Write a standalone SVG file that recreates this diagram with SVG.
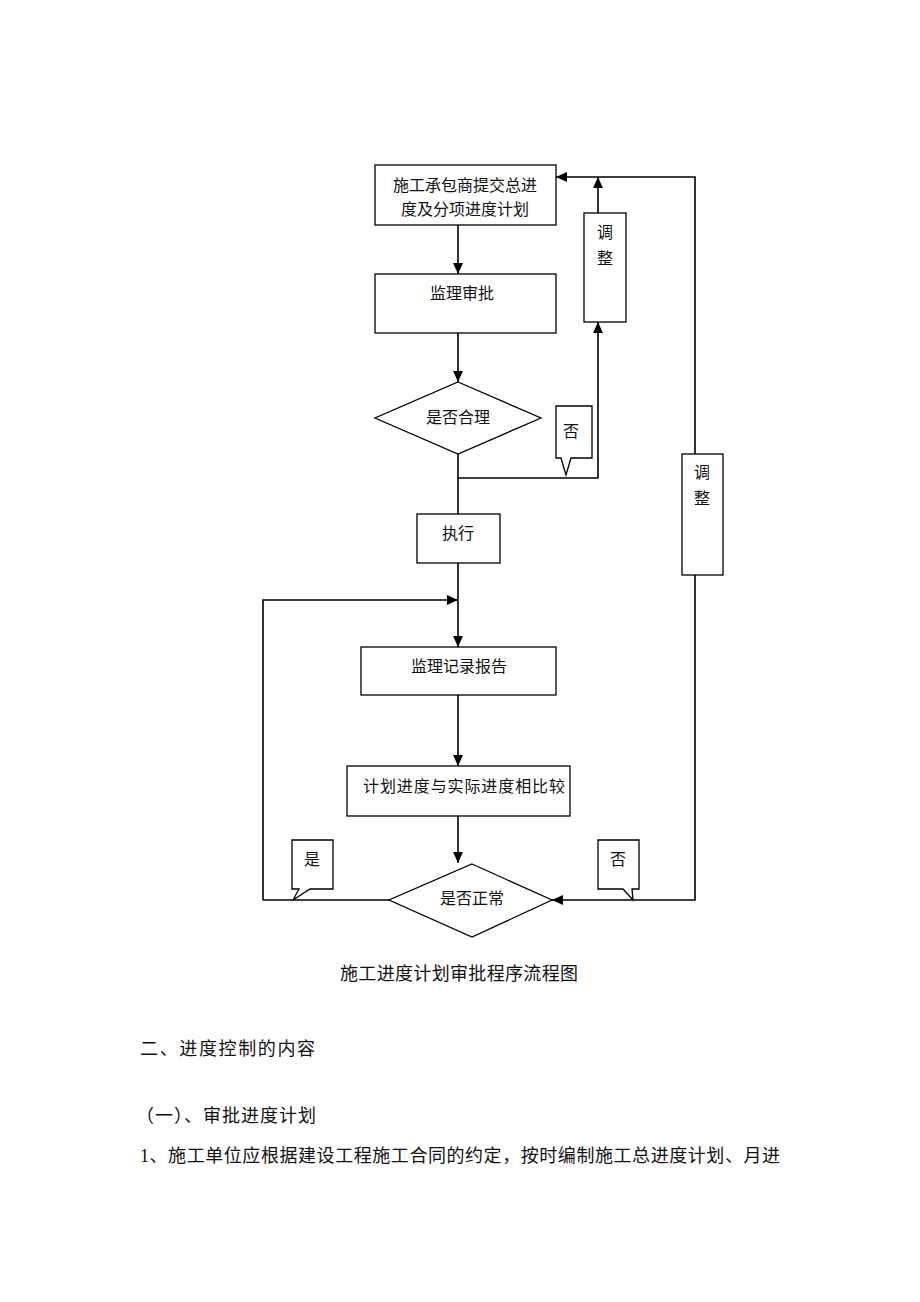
<svg xmlns="http://www.w3.org/2000/svg" width="920" height="1302" viewBox="0 0 920 1302">
<style>
.box{fill:#fff;stroke:#000;stroke-width:1.3}
.ln{fill:none;stroke:#000;stroke-width:1.6}
.t{font-family:"Liberation Serif","Noto Sans CJK SC",serif;font-size:16px;fill:#111;text-anchor:middle}
.b{font-family:"Liberation Serif","Noto Sans CJK SC",serif;font-size:18px;fill:#111}
</style>
<defs>
<marker id="ar" markerUnits="userSpaceOnUse" markerWidth="11" markerHeight="11" viewBox="0 0 10 10" refX="10" refY="5" orient="auto">
<path d="M0,0.5 L10,5 L0,9.5 Z" fill="#000"/>
</marker>
</defs>
<rect width="920" height="1302" fill="#fff"/>

<g id="connectors">
<line class="ln" x1="458" y1="225" x2="458" y2="274" marker-end="url(#ar)"/>
<line class="ln" x1="458" y1="333" x2="458" y2="382" marker-end="url(#ar)"/>
<line class="ln" x1="458" y1="454" x2="458" y2="514"/>
<polyline class="ln" points="458,478 598,478 598,322" marker-end="url(#ar)"/>
<line class="ln" x1="598" y1="213" x2="598" y2="177" marker-end="url(#ar)"/>
<polyline class="ln" points="695,454 695,177 556,177" marker-end="url(#ar)"/>
<line class="ln" x1="458" y1="563" x2="458" y2="647" marker-end="url(#ar)"/>
<polyline class="ln" points="263,900 263,600 458,600" marker-end="url(#ar)"/>
<line class="ln" x1="458" y1="695" x2="458" y2="766" marker-end="url(#ar)"/>
<line class="ln" x1="458" y1="816" x2="458" y2="863" marker-end="url(#ar)"/>
<line class="ln" x1="389" y1="900" x2="263" y2="900"/>
<polyline class="ln" points="695,575 695,900 552,900" marker-end="url(#ar)"/>
</g>

<g id="n1">
<rect class="box" x="375" y="165" width="181" height="60"/>
<text class="t" x="465" y="191">施工承包商提交总进</text>
<text class="t" x="465" y="215">度及分项进度计划</text>
</g>
<g id="n2">
<rect class="box" x="375" y="274" width="181" height="59"/>
<text class="t" x="462" y="299">监理审批</text>
</g>
<g id="n3">
<polygon class="box" points="458,382 541,418 458,454 375,418"/>
<text class="t" x="458" y="423">是否合理</text>
</g>
<g id="n4">
<path class="box" d="M556,406 H592 V458 H571 L566,475 L561,458 H556 Z"/>
<text class="t" x="571" y="437">否</text>
</g>
<g id="n5">
<rect class="box" x="584" y="213" width="42" height="109"/>
<text class="t" x="605" y="238">调</text>
<text class="t" x="605" y="264">整</text>
</g>
<g id="n6">
<rect class="box" x="417" y="514" width="83" height="49"/>
<text class="t" x="458" y="539">执行</text>
</g>
<g id="n7">
<rect class="box" x="361" y="647" width="195" height="48"/>
<text class="t" x="459" y="672">监理记录报告</text>
</g>
<g id="n8">
<rect class="box" x="347" y="766" width="223" height="50"/>
<text class="t" x="464" y="792" textLength="202">计划进度与实际进度相比较</text>
</g>
<g id="n9">
<polygon class="box" points="472,864 552,900 472,937 389,900"/>
<text class="t" x="472" y="904">是否正常</text>
</g>
<g id="n10">
<path class="box" d="M292,840 H333 V889 H310 L293,900 L299,889 H292 Z"/>
<text class="t" x="312" y="865">是</text>
</g>
<g id="n11">
<path class="box" d="M598,840 H639 V889 H632 L633,900 L623,889 H598 Z"/>
<text class="t" x="618" y="865">否</text>
</g>
<g id="n12">
<rect class="box" x="682" y="454" width="41" height="121"/>
<text class="t" x="702" y="478">调</text>
<text class="t" x="702" y="504">整</text>
</g>

<g id="texts">
<text class="b" x="340" y="980" textLength="238">施工进度计划审批程序流程图</text>
<text class="b" x="140" y="1055" textLength="175">二、进度控制的内容</text>
<text class="b" x="136" y="1122" textLength="180">（一）、审批进度计划</text>
<text class="b" x="140" y="1162" textLength="640">1、施工单位应根据建设工程施工合同的约定，按时编制施工总进度计划、月进</text>
</g>
</svg>
